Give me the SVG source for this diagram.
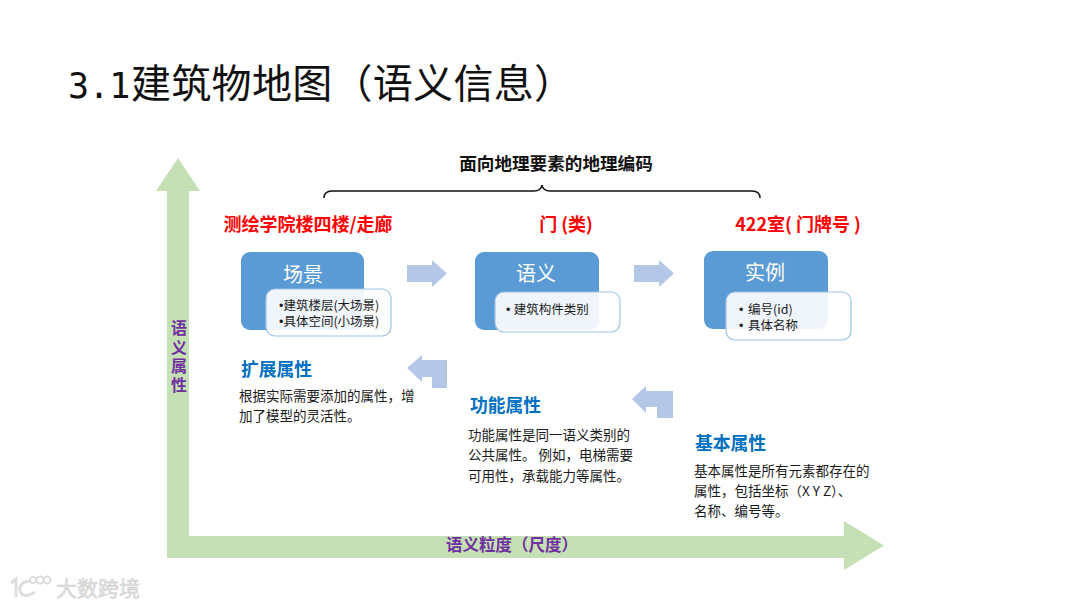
<svg xmlns="http://www.w3.org/2000/svg" width="1080" height="608" viewBox="0 0 1080 608">
<style>
text{font-family:"Noto Sans CJK SC","Liberation Sans",sans-serif;fill:#1a1a1a}
.b{font-family:"Liberation Sans",sans-serif}
.t{font-size:13.500px}
.s{font-size:12.500px}
.h{font-size:17.800px;font-weight:700;fill:#0070c0}
.r{font-size:18px;font-weight:700;fill:#ff0000;text-anchor:middle}
.n{font-size:20px;fill:#fff;text-anchor:middle}
.p{font-size:16px;font-weight:700;fill:#7030a0;text-anchor:middle}
.main{fill:#5b9bd5}
.sub{fill:#fff;fill-opacity:.9;stroke:#9dc3e6;stroke-width:1.2}
.ar{fill:#b4c7e7}
</style>
<rect width="1080" height="608" fill="#fff"/>
<text x="68" y="98" style="font-size:40px;fill:#111;letter-spacing:.3px"><tspan style="font-family:'DejaVu Sans Mono',monospace;font-size:35px;letter-spacing:-.5px">3.1</tspan><tspan x="131">建筑物地图（语义信息）</tspan></text>
<g id="connectors">
<path fill="#c5e0b4" d="M167 558V191H156L178 158L200 191H189V536H844V521L884 545.500L844 570V558Z"/>
<path fill="none" stroke="#111" stroke-width="1.500" d="M324 198Q324 191 332 191H534Q541 191 542 185Q543 191 550 191H752Q760 191 760 198"/>
<path class="ar" d="M407 265H432V260L447 273.500L432 287V282H407Z"/>
<path class="ar" d="M634 265H659V260L674 273.500L659 287V282H634Z"/>
<path class="ar" d="M407 368L422 355V360H447V388H432V377H422V382Z"/>
<path class="ar" d="M632 399L646 386V391H673V418H657V407H646V413Z"/>
</g>
<text x="556" y="170" style="font-size:17.600px;font-weight:700;fill:#111;text-anchor:middle">面向地理要素的地理编码</text>
<text class="r" x="308" y="231">测绘学院楼四楼/走廊</text>
<text class="r" x="566" y="231">门 (类)</text>
<text class="r" x="798" y="231">422室( 门牌号 )</text>
<g id="node-scene">
<rect class="main" x="241" y="252" width="123" height="78" rx="9"/>
<text class="n" x="303" y="282">场景</text>
<rect class="sub" x="266" y="289" width="125" height="47" rx="9"/>
<text class="s"><tspan x="279" y="310"><tspan class="b">•</tspan>建筑楼层(大场景)</tspan><tspan x="279" y="326"><tspan class="b">•</tspan>具体空间(小场景)</tspan></text>
</g>
<g id="node-semantic">
<rect class="main" x="475" y="252" width="124" height="78" rx="9"/>
<text class="n" x="536" y="281">语义</text>
<rect class="sub" x="495" y="292" width="125" height="40" rx="9"/>
<text class="s" x="506" y="314"><tspan class="b">•  </tspan>建筑构件类别</text>
</g>
<g id="node-instance">
<rect class="main" x="704" y="251" width="124" height="78" rx="9"/>
<text class="n" x="765" y="280">实例</text>
<rect class="sub" x="726" y="292" width="125" height="48" rx="9"/>
<text class="s"><tspan class="b" x="739" y="314">•</tspan><tspan x="748" y="314">编号(id)</tspan><tspan class="b" x="739" y="329.500">•</tspan><tspan x="748" y="329.500">具体名称</tspan></text>
</g>
<g id="node-extended">
<text class="h" x="241" y="376">扩展属性</text>
<text class="t" x="239" y="401">根据实际需要添加的属性，增</text>
<text class="t" x="239" y="421">加了模型的灵活性。</text>
</g>
<g id="node-functional">
<text class="h" x="470" y="412">功能属性</text>
<text class="t" x="468" y="440">功能属性是同一语义类别的</text>
<text class="t" x="468" y="460">公共属性。 例如，电梯需要</text>
<text class="t" x="468" y="481">可用性，承载能力等属性。</text>
</g>
<g id="node-basic">
<text class="h" x="695" y="450">基本属性</text>
<text class="t" x="694" y="476">基本属性是所有元素都存在的</text>
<text class="t" x="694" y="496">属性，包括坐标（X Y Z）、</text>
<text class="t" x="694" y="516">名称、编号等。</text>
</g>
<text x="179" y="320" style="writing-mode:vertical-rl;font-size:16px;font-weight:700;fill:#7030a0;letter-spacing:3px">语义属性</text>
<text class="p" x="512" y="551" style="font-size:16.500px">语义粒度（尺度）</text>
<g id="watermark">
<path d="M11 583L16 579V597M30 581Q19 582 20 590Q22 600 35 592" fill="none" stroke="#ddd" stroke-width="3"/>
<circle cx="33" cy="580" r="3" fill="none" stroke="#ddd" stroke-width="2"/><circle cx="40" cy="580" r="3.500" fill="none" stroke="#ddd" stroke-width="2"/><circle cx="47" cy="580" r="3.500" fill="none" stroke="#ddd" stroke-width="2"/>
<text x="56" y="596" style="font-size:21px;fill:#e2e2e2;stroke:#ccc;stroke-width:.5">大数跨境</text>
</g>
</svg>
